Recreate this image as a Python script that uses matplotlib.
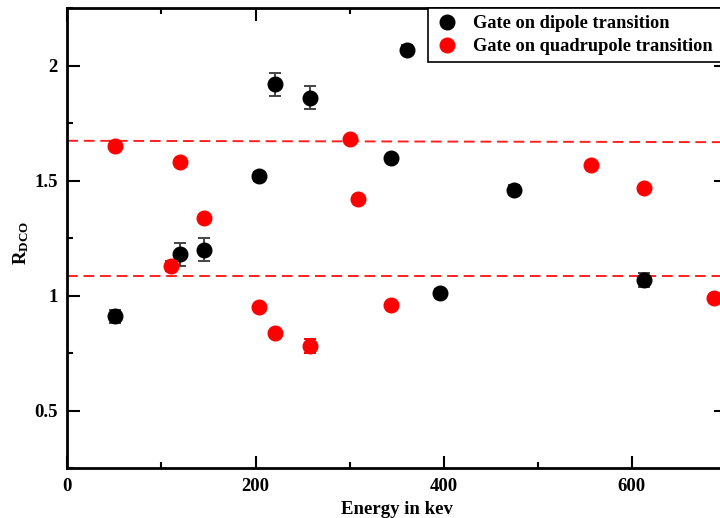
import matplotlib
matplotlib.use("Agg")
import matplotlib.pyplot as plt
from matplotlib.lines import Line2D
from matplotlib.patches import Rectangle
from matplotlib.ticker import MultipleLocator

plt.rcParams['font.family'] = ['Liberation Serif', 'DejaVu Serif']
plt.rcParams['font.weight'] = 'bold'
plt.rcParams['mathtext.fontset'] = 'custom'
plt.rcParams['mathtext.rm'] = 'Liberation Serif:bold'
plt.rcParams['mathtext.bf'] = 'Liberation Serif:bold'
plt.rcParams['mathtext.it'] = 'Liberation Serif:bold'

# Gate on dipole transition
dip_e = [50.9, 119.9, 145.4, 203.2, 220.2, 257.9, 343.6, 361.0, 396.5, 475.2, 612.8]
dip_r = [0.91, 1.18, 1.20, 1.52, 1.92, 1.86, 1.60, 2.07, 1.01, 1.46, 1.07]
dip_err = [0.03, 0.05, 0.05, 0.02, 0.05, 0.05, 0.01, 0.02, 0.02, 0.02, 0.03]

# Gate on quadrupole transition
quad_e = [50.8, 110.3, 119.9, 145.8, 203.2, 220.2, 257.9, 300.4, 308.9, 343.6, 556.4, 612.8, 687.2]
quad_r = [1.65, 1.13, 1.58, 1.34, 0.95, 0.84, 0.78, 1.68, 1.42, 0.96, 1.57, 1.47, 0.99]
quad_err = [0.01, 0.02, 0.01, 0.01, 0.01, 0.01, 0.03, 0.01, 0.01, 0.01, 0.01, 0.01, 0.01]

# reference lines
upper_x = [0, 700]
upper_y = [1.674, 1.668]
lower_x = [0, 700]
lower_y = [1.088, 1.088]

fig = plt.figure(figsize=(7.2, 5.18), dpi=100)
ax = fig.add_axes([67.3/720, 1-468.3/518, (726-67.3)/720, (468.3-8.3)/518])

ax.plot(upper_x, upper_y, color='#ff2020', lw=1.4, ls=(0, (5.5, 3)), zorder=1)
ax.plot(lower_x, lower_y, color='#ff2020', lw=1.4, ls=(0, (5.5, 3)), zorder=1)

ax.errorbar(dip_e, dip_r, yerr=dip_err, fmt='o', color='black', ms=10.5,
            ecolor='#444444', elinewidth=1.4, capsize=4.6, capthick=1.4,
            zorder=3, clip_on=False)
ax.errorbar(quad_e, quad_r, yerr=quad_err, fmt='o', color='#ff0000', ms=10.5,
            ecolor='#ff0000', elinewidth=1.4, capsize=4.6, capthick=1.4,
            zorder=4, clip_on=False)

ax.set_xlim(0, 700)
ax.set_ylim(0.25, 2.25)
ax.xaxis.set_major_locator(MultipleLocator(200))
ax.xaxis.set_minor_locator(MultipleLocator(100))
ax.yaxis.set_major_locator(MultipleLocator(0.5))
ax.yaxis.set_minor_locator(MultipleLocator(0.25))
ax.tick_params(which='both', direction='in', top=True, right=True, width=1.5,
               labelsize=13.5, pad=7)
ax.tick_params(which='major', length=9)
ax.tick_params(which='minor', length=4.5)
ax.set_yticks([0.5, 1, 1.5, 2])
ax.set_yticklabels(['0.5', '1', '1.5', '2'])
for s in ax.spines.values():
    s.set_linewidth(2)

ax.set_xlabel('Energy in kev', fontsize=13.5, fontweight='bold', labelpad=4)
ax.set_ylabel(r'$\mathbf{R}_{\mathbf{DCO}}$', fontsize=13.5, labelpad=2)
ax.yaxis.label.set_y(0.49)

handles = [Line2D([], [], ls='none', marker='o', color='black', ms=10.5),
           Line2D([], [], ls='none', marker='o', color='#ff0000', ms=10.5)]
leg = ax.legend(handles, ['Gate on dipole transition', 'Gate on quadrupole transition'],
                loc='upper right', bbox_to_anchor=(0.991, 1), borderaxespad=0,
                frameon=False,
                prop={'family': 'Liberation Serif', 'weight': 'bold', 'size': 13.2},
                handlelength=1.4, handletextpad=0.72, labelspacing=0.33,
                borderpad=0.38)
leg.set_zorder(7)

# legend frame that runs past the right edge of the picture, as in the reference
fig.canvas.draw()
bb = leg.get_window_extent().transformed(ax.transAxes.inverted())
frame = Rectangle((bb.x0, bb.y0), 1.05 - bb.x0, bb.height,
                  transform=ax.transAxes, facecolor='white',
                  edgecolor='black', lw=1.2, zorder=6, clip_on=False)
ax.add_patch(frame)
frame.set_clip_on(False)

fig.savefig('out.png', dpi=100)
